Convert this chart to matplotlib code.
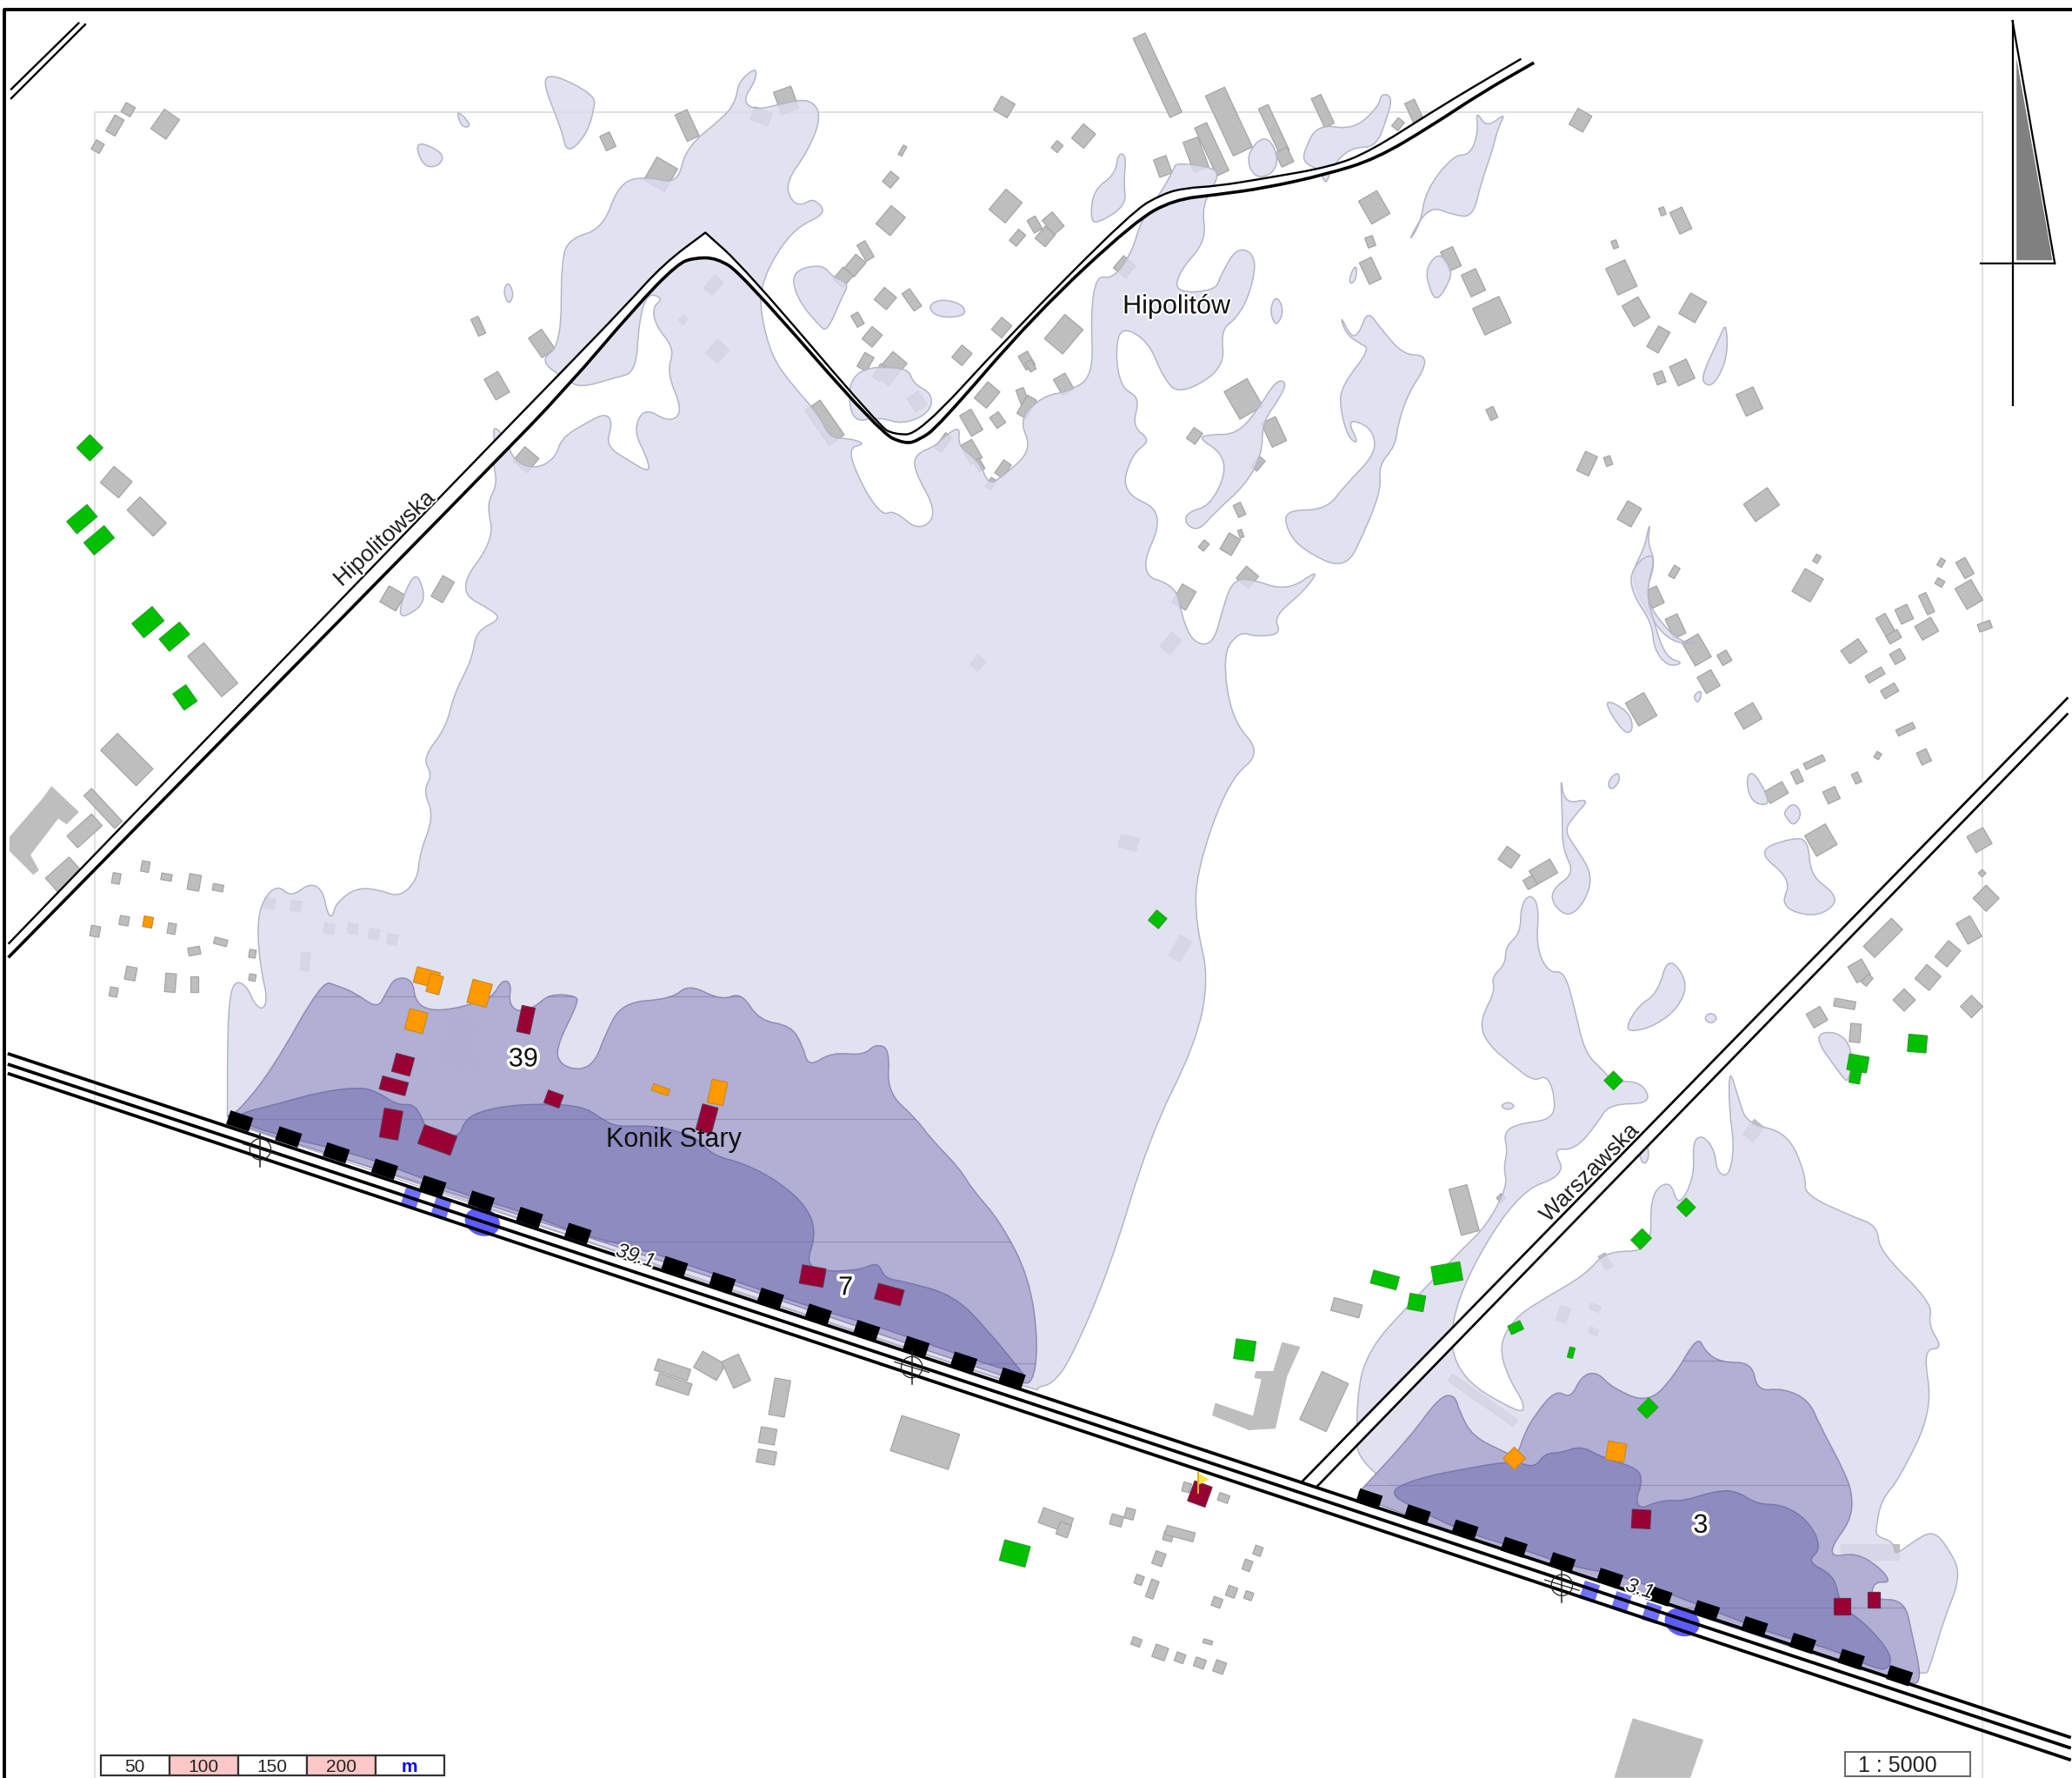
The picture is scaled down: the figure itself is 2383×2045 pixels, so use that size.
#!/usr/bin/env python3
"""Noise map of Konik Stary / Hipolitow along the railway line."""

import matplotlib
matplotlib.use("Agg")
import matplotlib.pyplot as plt
import matplotlib.patheffects as pe
import numpy as np
from matplotlib.patches import Ellipse, PathPatch, Polygon, Rectangle
from matplotlib.path import Path

plt.rcParams["font.family"] = ["Liberation Sans", "DejaVu Sans"]

MAP_W, MAP_H = 1568, 1346
PX = 1.52  # output pixels per map unit

# traced outlines, in the coordinates of the crop they were read from
# crop name -> left, top, width, height in output pixels, canvas size
CROPS = {
    "south_w": (200, 1050, 1050, 600),
    "south_e": (1450, 1500, 933, 545),
    "north_w": (400, 40, 1000, 700),
    "north_e": (1200, 40, 1000, 700),
    "west": (0, 450, 600, 700),
    "east": (1650, 640, 733, 800),
}

main_sw = [(92, 600), (92, 400), (95, 260), (105, 205), (125, 220), (140, 280), (155, 292), (160, 250), (150, 180)]
main_w = [(772, 1380), (790, 1310), (835, 1272), (875, 1305), (930, 1268), (970, 1285), (985, 1350), (1000, 1355),
          (1010, 1320), (1070, 1280), (1140, 1285), (1200, 1305), (1255, 1260), (1262, 1190), (1305, 1095), (1272, 1030),
          (1300, 990), (1270, 945), (1340, 870), (1365, 780), (1420, 690), (1430, 620), (1500, 590), (1490, 570), (1370, 515)]
main_nw = [(265, 1300), (250, 1210), (270, 1160), (262, 1100), (265, 1050), (262, 1005), (285, 1040), (300, 1100),
           (340, 1120), (375, 1090), (385, 1040), (430, 1000), (465, 975), (478, 1000), (465, 1060), (510, 1100),
           (545, 1130), (540, 1090), (515, 1020), (535, 960), (580, 1000), (605, 970), (575, 870), (590, 810), (555, 750),
           (550, 700), (570, 680), (540, 665), (525, 740), (520, 870), (480, 885), (420, 910), (395, 890), (345, 840),
           (385, 800), (385, 580), (400, 525), (460, 500), (490, 380), (540, 365), (595, 385), (610, 290), (680, 210),
           (700, 170), (705, 120), (738, 82), (735, 120), (712, 170), (735, 195), (790, 175), (835, 165), (855, 210),
           (830, 300), (790, 380), (800, 430), (820, 440), (840, 420), (865, 460), (810, 495), (770, 570), (745, 650),
           (745, 720), (765, 830), (800, 900), (850, 980), (870, 1040), (905, 1040), (935, 1055), (900, 1065), (930, 1170),
           (965, 1240), (985, 1225), (1030, 1280), (1065, 1235), (1020, 1120), (1025, 1080), (1060, 1060), (1080, 1030),
           (1105, 1010), (1100, 1060), (1140, 1100), (1155, 1160), (1180, 1140), (1235, 1070), (1210, 990), (1255, 930),
           (1300, 920), (1345, 880), (1340, 720), (1350, 620), (1380, 630), (1415, 560), (1430, 480), (1470, 400), (1490, 345)]
main_ne = [(240, 330), (300, 340), (320, 360), (285, 440), (295, 530), (245, 610), (238, 665), (310, 660), (320, 620),
           (350, 545), (385, 570), (375, 660), (350, 730), (320, 760), (328, 860), (245, 930), (215, 880), (190, 790),
           (140, 750), (130, 820), (140, 910), (175, 935), (160, 1010), (195, 1045), (160, 1080), (140, 1180), (222, 1230),
           (170, 1390), (240, 1420), (250, 1500)]
main_e1 = [(903, 487), (918, 488), (925, 462)]
main_ne2 = [(340, 1410), (370, 1400), (440, 1435), (500, 1375), (470, 1435), (415, 1500), (430, 1545)]
main_e2 = [(950, 482), (938, 478), (925, 495), (932, 545), (955, 570), (930, 590), (905, 660), (905, 700), (915, 740),
           (905, 790), (870, 860), (840, 960), (810, 1030), (796, 1048), (785, 1050), (785, 1054), (172, 848)]

east_se = [(1280, 1265), (1300, 1170), (1320, 1050), (1355, 900), (1330, 810), (1300, 750), (1260, 790), (1225, 835),
           (1225, 790), (1190, 770), (1190, 740), (1200, 650), (1235, 580), (1300, 350), (1280, 150), (1320, 150),
           (1290, 70), (1300, 0)]
east_e = [(1095, 1568), (1090, 1510), (1030, 1490), (910, 1440), (915, 1400), (870, 1300), (770, 1280), (750, 1230),
          (725, 1150), (725, 1250), (738, 1330), (725, 1400), (695, 1390), (690, 1340), (660, 1305), (635, 1320),
          (640, 1400), (600, 1470), (580, 1405), (530, 1440), (535, 1568)]
east_s2 = [(1215, 947), (1200, 965), (1165, 985)]
east_sw = [(490, 50), (460, 140), (480, 250), (510, 330), (505, 370), (370, 230), (370, 0)]
east_up = [(200, 1435), (325, 1395), (290, 1335), (345, 1340), (400, 1280), (430, 1235), (535, 1235), (510, 1185),
           (440, 1185), (415, 1160), (370, 1120), (345, 1020), (320, 935), (280, 940), (250, 880), (258, 790), (235, 760),
           (212, 790), (212, 850), (175, 880), (175, 920), (140, 950), (150, 980), (110, 1050), (130, 1100), (195, 1150),
           (245, 1185), (275, 1170), (295, 1210), (295, 1270), (205, 1280), (170, 1300), (180, 1340), (170, 1380), (180, 1420)]
east_end = [(1125, 928), (1105, 947), (1067, 987), (1036, 1021), (1026, 1056), (1028, 1132)]

# smaller light islands
islands = [
    ("north_w", [(350, 120), (370, 100), (445, 155), (445, 190), (430, 260), (395, 308), (385, 240)]),
    ("north_w", [(120, 270), (175, 305), (165, 340), (135, 340)]),
    ("north_w", [(195, 190), (225, 235), (205, 240)]),
    ("north_w", [(280, 660), (290, 635), (300, 670), (290, 698)]),
    ("north_w", [(1045, 700), (1070, 680), (1110, 695), (1115, 725), (1065, 730)]),
    ("north_w", [(800, 610), (855, 590), (875, 625), (905, 640), (890, 680), (865, 765), (850, 750), (810, 680)]),
    ("north_w", [(85, 1510), (120, 1375), (140, 1440), (130, 1480)]),
    ("north_w", [(905, 860), (1010, 855), (1020, 900), (1055, 925), (1050, 975), (1000, 1005), (960, 985), (905, 1000)]),
    ("north_e", [(85, 480), (90, 400), (130, 360), (135, 305), (150, 310), (145, 380), (150, 440), (100, 485)]),
    ("north_e", [(365, 310), (400, 255), (425, 310), (415, 360), (380, 370)]),
    ("north_e", [(470, 300), (495, 230), (560, 245), (605, 185), (610, 150), (630, 160), (620, 215), (600, 290), (555, 290),
                 (520, 340), (510, 390), (500, 350), (470, 330)]),
    ("north_e", [(655, 540), (695, 440), (740, 465), (775, 470), (790, 380), (810, 300), (820, 240), (835, 200), (800, 240),
                 (780, 195), (785, 250), (770, 310), (740, 310), (690, 400), (680, 490)]),
    ("north_e", [(690, 600), (715, 560), (735, 600), (735, 630), (710, 690), (695, 650)]),
    ("north_e", [(553, 620), (565, 590), (565, 630), (553, 645)]),
    ("north_e", [(420, 670), (435, 710), (420, 755), (408, 710)]),
    ("north_e", [(535, 720), (555, 780), (570, 770), (585, 710), (610, 760), (650, 825), (688, 825), (688, 860), (660, 920),
                 (640, 1000), (635, 1060), (605, 1110), (610, 1170), (580, 1280), (545, 1380), (470, 1330), (440, 1280),
                 (435, 1225), (510, 1225), (545, 1160), (600, 1080), (595, 1020), (565, 995), (550, 1000), (570, 1055),
                 (550, 1040), (535, 960), (538, 905), (590, 810), (570, 795), (545, 770)]),
    ("north_e", [(260, 1230), (300, 1215), (330, 1130), (320, 1075), (280, 1040), (300, 1030), (350, 1030), (390, 960),
                 (420, 890), (440, 895), (425, 940), (395, 1000), (395, 1080), (365, 1160), (310, 1230), (280, 1280), (255, 1260)]),
    ("north_e", [(1190, 870), (1220, 780), (1232, 740), (1235, 830), (1210, 905), (1190, 900)]),
    ("north_e", [(1060, 1390), (1085, 1320), (1090, 1280), (1095, 1260), (1090, 1310), (1105, 1360), (1085, 1440),
                 (1105, 1500), (1150, 1568), (1190, 1568), (1130, 1568), (1085, 1480)]),
    ("east", [(410, 318), (480, 350), (490, 395), (465, 400)]),
    ("east", [(770, 490), (790, 490), (830, 560), (790, 560), (770, 530)]),
    ("east", [(860, 575), (885, 555), (905, 580), (885, 610), (865, 590)]),
    ("east", [(635, 315), (660, 300), (650, 335)]),
    ("east", [(425, 510), (450, 485), (458, 505), (435, 530)]),
    ("east", [(790, 665), (880, 635), (920, 640), (925, 720), (985, 760), (985, 790), (930, 815), (850, 790), (880, 730)]),
    ("east", [(310, 490), (320, 560), (385, 545), (340, 590), (320, 620), (350, 660), (390, 720), (370, 780), (330, 815),
              (290, 785), (290, 750), (345, 715), (315, 660), (315, 590)]),
    ("east", [(470, 1065), (500, 1015), (550, 985), (575, 900), (625, 960), (600, 1020), (540, 1060), (490, 1072)]),
    ("east", [(662, 1042), (680, 1028), (698, 1042), (680, 1056)]),
    ("east", [(162, 1240), (180, 1230), (200, 1240), (180, 1250)]),
    ("east", [(930, 1080), (990, 1070), (1030, 1110), (1020, 1190), (1000, 1170)]),
    ("east", [(480, 40), (515, 0), (545, 0), (520, 80), (540, 150), (570, 230), (615, 240), (575, 250), (540, 210), (535, 150), (490, 90)]),
    ("east", [(500, 1320), (520, 1310), (530, 1360), (510, 1375)]),
]

# noise zones: middle and inner band at both source stretches
mid_west = [(110, 600), (170, 470), (255, 205), (280, 220), (310, 240), (350, 290), (365, 240), (380, 195), (410, 200),
            (415, 270), (440, 295), (480, 290), (510, 275), (545, 260), (565, 200), (580, 215), (575, 270), (590, 300),
            (620, 285), (645, 245), (690, 250), (695, 270), (655, 410), (665, 460), (700, 475), (725, 445), (740, 370),
            (770, 270), (855, 260), (885, 215), (940, 265), (975, 240), (1005, 325), (1060, 340), (1080, 400), (1090, 465),
            (1130, 420), (1185, 430), (1205, 395), (1230, 410), (1225, 540), (1275, 620), (1300, 680), (1350, 770),
            (1370, 830), (1420, 930), (1470, 1100), (1485, 1300), (1475, 1420), (1450, 1410), (1000, 1140), (700, 970),
            (400, 800), (110, 640), (92, 612), (92, 612)]
in_west = [(110, 605), (180, 575), (250, 540), (320, 525), (350, 540), (385, 580), (410, 575), (425, 610), (435, 660),
           (490, 680), (500, 620), (540, 590), (610, 575), (700, 580), (735, 620), (760, 645), (820, 640), (870, 660),
           (900, 680), (925, 730), (980, 755), (1040, 810), (1090, 890), (1103, 970), (1085, 1060), (1120, 1080),
           (1180, 1075), (1210, 1050), (1220, 1100), (1255, 1110), (1340, 1150), (1400, 1260), (1460, 1390), (1460, 1390),
           (1400, 1360), (1300, 1300), (1200, 1240), (1100, 1190), (1000, 1130), (900, 1070), (800, 1010), (700, 970),
           (600, 900), (500, 850), (400, 780), (300, 720), (200, 680), (110, 630)]
mid_east = [(190, 625), (190, 625), (290, 440), (345, 310), (375, 300), (385, 360), (410, 440), (470, 490), (495, 510), (510, 430),
            (530, 370), (570, 285), (600, 315), (620, 240), (650, 225), (680, 280), (750, 330), (800, 240), (845, 105),
            (860, 160), (890, 195), (950, 195), (960, 290), (1010, 280), (1060, 320), (1080, 400), (1130, 560), (1145, 640),
            (1140, 720), (1105, 800), (1105, 840), (1150, 825), (1195, 870), (1220, 925), (1185, 920), (1180, 980),
            (1245, 980), (1260, 1100), (1278, 1240), (1260, 1270), (700, 950), (195, 650)]
in_east = [(245, 625), (300, 580), (400, 545), (490, 520), (530, 545), (550, 495), (580, 495), (620, 470), (660, 510),
           (730, 545), (738, 590), (725, 650), (735, 680), (760, 660), (790, 650), (815, 655), (880, 620), (920, 620),
           (960, 665), (1010, 665), (1060, 720), (1085, 810), (1055, 855), (1110, 900), (1120, 1000), (1170, 1060),
           (1220, 1160), (1215, 1210), (1190, 1210), (1100, 1140), (1000, 1100), (850, 1000), (700, 900), (600, 870),
           (500, 810), (400, 760), (300, 680)]

# road centre lines, map units
rail_west = [(7, 798), (7, 806), (7, 813)]
rail_east = [(1566, 1315), (1566, 1323), (1566, 1332)]
hip_up_w = [(25, 1425)]
hip_up_nw = [(235, 1090), (385, 870), (500, 700), (570, 590), (645, 510), (645, 510), (715, 600), (960, 1010), (985, 1030), (1030, 1030),
             (1190, 780), (1415, 455), (1470, 410), (1510, 395), (1568, 390)]
hip_up_ne = [(400, 370), (520, 340), (590, 300), (700, 200), (775, 135), (862, 62)]
hip_lo_w = [(25, 1460)]
hip_lo_nw = [(260, 1110), (395, 910), (520, 700), (595, 590), (625, 575), (665, 575), (710, 615), (960, 1025),
             (1005, 1055), (1030, 1045), (1065, 1010), (1240, 720), (1420, 480), (1490, 425), (1568, 412)]
hip_lo_ne = [(400, 395), (510, 360), (600, 320), (700, 235), (790, 150), (885, 72)]
warsaw_a = [(985, 1122), (1565, 528)]
warsaw_b = [(996, 1126), (1565, 540)]
corner_a = [(8, 68), (60, 17)]
corner_b = [(8, 75), (65, 18)]

# buildings: centre x, centre y, width, height, angle (map units)
grey_buildings = [
    (125, 94, 14, 18, 35), (97, 83, 8, 8, 30), (87, 95, 8, 14, 30), (74, 111, 7, 8, 30), (88, 365, 18, 16, 40),
    (111, 391, 28, 14, 45), (161, 507, 40, 16, 50), (96, 575, 38, 18, 45), (78, 612, 34, 8, 47), (64, 629, 25, 12, -42),
    (48, 662, 24, 14, -42), (110, 656, 6, 8, 10), (88, 665, 6, 8, 10), (126, 664, 8, 5, 10), (147, 668, 9, 12, 10),
    (165, 672, 8, 5, 10), (94, 697, 7, 7, 10), (72, 705, 7, 8, 10), (130, 703, 6, 8, 10), (167, 713, 10, 5, 15),
    (147, 720, 9, 6, -10), (191, 722, 5, 6, 10), (99, 737, 8, 10, 10), (129, 744, 8, 14, 5), (86, 751, 6, 7, 10),
    (147, 745, 6, 12, 0), (191, 740, 5, 5, 10),
    (595, 76, 14, 18, -20), (576, 88, 14, 10, 20), (520, 95, 10, 22, -25), (460, 107, 8, 12, -25), (500, 132, 18, 20, 30),
    (760, 81, 12, 12, 30), (820, 103, 12, 14, 40), (800, 111, 6, 7, 40), (683, 114, 3, 8, 30), (674, 136, 8, 10, 40),
    (761, 156, 16, 20, 40), (674, 167, 14, 18, 40), (783, 170, 7, 11, -30), (791, 179, 10, 12, 40), (797, 169, 10, 14, -40),
    (770, 180, 7, 11, 40), (655, 190, 7, 14, -30), (647, 201, 10, 14, 40), (638, 210, 10, 12, 40), (670, 226, 12, 12, 40),
    (690, 227, 7, 16, -35), (649, 242, 6, 10, -30), (660, 255, 10, 12, 40), (758, 248, 10, 12, 40), (728, 269, 10, 12, 40),
    (805, 253, 18, 24, 40), (777, 273, 8, 12, -30), (780, 277, 5, 8, -30), (851, 202, 12, 12, 40), (674, 279, 14, 22, 40),
    (655, 274, 8, 12, 30), (666, 282, 6, 12, 30), (694, 304, 10, 12, -35), (747, 299, 12, 16, 40), (755, 318, 8, 10, -35),
    (735, 320, 10, 18, -30), (774, 301, 6, 14, -20), (777, 308, 8, 16, 30), (805, 291, 10, 14, -30), (714, 335, 6, 14, 35),
    (735, 342, 10, 16, -30), (741, 352, 5, 9, -30), (759, 355, 7, 12, 35), (750, 366, 5, 8, 35), (362, 247, 6, 14, -25),
    (410, 260, 12, 18, -35), (376, 292, 12, 18, -30), (624, 320, 14, 32, -35), (398, 348, 14, 14, 40), (335, 446, 10, 18, 30),
    (297, 453, 14, 14, 30), (904, 330, 8, 10, 35),
    (876, 57, 10, 66, -25), (930, 92, 16, 50, -25), (917, 113, 10, 40, -25), (964, 98, 8, 38, -25), (905, 117, 12, 24, -20),
    (880, 126, 10, 14, -20), (1001, 84, 8, 24, -25), (1070, 84, 8, 16, -25), (972, 119, 10, 12, -25), (1058, 94, 6, 8, 40),
    (1196, 91, 12, 14, 30), (1040, 157, 16, 20, -30), (1272, 167, 10, 18, -25), (1258, 160, 4, 6, -20), (1222, 185, 4, 6, -20),
    (1037, 183, 6, 8, -20), (1037, 205, 10, 18, -25), (1098, 196, 10, 16, -25), (1115, 214, 12, 18, -25), (1129, 239, 22, 22, -25),
    (1227, 210, 16, 22, -25), (1238, 236, 14, 18, -30), (1281, 233, 14, 18, 30), (1255, 257, 10, 18, 30), (1273, 282, 14, 16, -25),
    (1256, 286, 7, 9, -20), (1324, 304, 14, 18, -25), (1129, 313, 6, 9, -25), (1201, 351, 10, 16, 25), (1217, 349, 5, 7, -20),
    (1233, 389, 12, 16, 30), (1333, 382, 22, 16, -35), (1267, 433, 5, 9, 30), (1375, 423, 4, 6, 30), (1368, 443, 16, 20, 30),
    (1252, 452, 10, 14, -25), (1268, 474, 10, 16, -25), (941, 302, 20, 24, -30), (964, 327, 12, 20, -25), (952, 351, 6, 10, 40),
    (938, 386, 6, 10, -25), (931, 412, 10, 14, 30), (939, 404, 3, 6, -20), (911, 413, 5, 7, 40), (944, 437, 12, 12, 40),
    (896, 452, 12, 16, 30),
    (1469, 426, 4, 6, 30), (1487, 430, 8, 14, -30), (1490, 450, 14, 18, -30), (1468, 441, 6, 5, 30), (1502, 474, 10, 6, -20),
    (1458, 457, 6, 16, -25), (1441, 465, 10, 12, -25), (1428, 475, 8, 20, -30), (1433, 482, 10, 7, -30), (1458, 476, 14, 12, -30),
    (1436, 497, 9, 9, -30), (1403, 493, 16, 12, -35), (1419, 511, 14, 6, -30), (1430, 523, 12, 7, -30), (1305, 498, 8, 9, -30),
    (1284, 492, 14, 20, -30), (1293, 516, 12, 14, -30), (1323, 542, 16, 14, -30), (1242, 537, 16, 20, -30), (1442, 552, 14, 5, -25),
    (1456, 573, 8, 10, -25), (1421, 572, 4, 5, 30), (1405, 589, 5, 8, -25), (1373, 577, 16, 5, -25), (1360, 588, 6, 10, -25),
    (1386, 602, 10, 10, -25), (1344, 600, 16, 10, -30), (1378, 636, 18, 18, -30), (1498, 636, 14, 14, -30), (1500, 661, 4, 4, 45),
    (1503, 680, 14, 14, 45), (1425, 710, 30, 12, -45), (1490, 704, 12, 18, -30), (1474, 722, 12, 16, 40), (1459, 740, 14, 14, 40),
    (1407, 735, 12, 14, -30), (1413, 742, 5, 8, 40), (1441, 757, 12, 12, 45), (1492, 762, 12, 12, 45), (1396, 760, 16, 6, 10),
    (1375, 770, 12, 12, -30), (1404, 782, 8, 14, 5), (1142, 649, 12, 12, 35), (1168, 660, 18, 12, -30), (1158, 668, 8, 8, -30),
    (1136, 907, 5, 5, 45), (1108, 916, 14, 36, -15),
    (877, 1180, 8, 10, 20), (862, 1196, 6, 7, 20), (872, 1203, 6, 14, 20), (952, 1174, 6, 7, 20), (944, 1185, 6, 8, 20),
    (932, 1205, 7, 8, 20), (945, 1208, 6, 6, 20), (921, 1213, 7, 7, 20), (860, 1243, 7, 6, 20), (878, 1251, 10, 10, 20),
    (893, 1255, 7, 7, 20), (908, 1259, 8, 7, 20), (923, 1262, 8, 9, 20), (914, 1243, 7, 3, 15), (926, 1134, 8, 6, 20),
    (898, 1126, 6, 7, 15), (855, 1146, 7, 8, 15), (845, 1151, 9, 8, 15), (884, 1163, 7, 7, 15), (893, 1161, 22, 7, 15),
    (799, 1151, 24, 12, 20), (805, 1158, 9, 10, 20),
    (509, 1037, 26, 9, 18), (510, 1048, 26, 9, 18), (537, 1034, 20, 14, 30), (557, 1038, 14, 22, -25), (590, 1058, 12, 28, 10),
    (581, 1087, 12, 12, 10), (580, 1103, 14, 10, 10), (700, 1092, 46, 28, 18), (1002, 1061, 22, 40, 25),
    (1019, 990, 22, 10, 15), (1122, 1060, 60, 6, 35),
]
pale_buildings = [(204, 684, 8, 8, 10), (224, 686, 8, 8, 10), (249, 703, 8, 8, 10), (267, 703, 8, 8, 10), (283, 707, 8, 8, 10),
                  (297, 711, 8, 8, 10), (231, 728, 7, 14, 5), (347, 789, 20, 35, 15), (360, 808, 6, 12, 15),
                  (540, 216, 9, 13, 40), (517, 242, 5, 6, 40), (543, 266, 12, 14, 40), (740, 502, 8, 10, 40),
                  (854, 638, 14, 10, 15), (893, 718, 10, 18, 30), (1327, 856, 10, 14, 40), (1415, 1175, 44, 12, 0),
                  (886, 487, 10, 14, 40), (1215, 955, 6, 12, -30), (1183, 995, 8, 12, 20), (1207, 990, 8, 5, 20),
                  (1206, 1008, 7, 5, 20)]
orange_annex = [(329, 745, 10, 14, 15)]
l_block_west = [(30, 1150), (130, 1050), (155, 1020), (235, 1085), (200, 1115), (175, 1100), (90, 1195), (115, 1235), (100, 1245), (30, 1185)]
l_block_south = [(975, 135), (1035, 150), (990, 250), (950, 430), (860, 435), (735, 385), (745, 345), (875, 390), (905, 260),
                 (880, 255), (885, 235), (945, 235)]
big_block_se = [(720, 1375), (855, 1445), (830, 1568), (685, 1568)]

green_buildings = [(68, 339, 14, 14, 45), (62, 393, 20, 12, -40), (75, 409, 20, 12, -40), (112, 471, 20, 14, -40), (132, 482, 20, 12, -40),
                   (140, 528, 12, 15, -35), (876, 696, 10, 10, 40), (1451, 790, 14, 13, 5), (1406, 805, 15, 12, 10), (1404, 815, 8, 10, 10),
                   (1221, 818, 10, 10, 45), (1276, 914, 10, 10, 45), (1242, 938, 10, 12, 45), (1147, 1005, 10, 7, -25),
                   (1189, 1024, 4, 8, 15), (1247, 1066, 10, 12, 45), (942, 1022, 15, 15, 8), (768, 1176, 20, 16, 15),
                   (1048, 969, 20, 10, 15), (1095, 964, 22, 14, -10), (1072, 986, 12, 12, 10)]
red_buildings = [(398, 772, 10, 20, 12), (305, 806, 14, 14, 15), (298, 822, 20, 10, 15), (296, 851, 14, 22, 10), (331, 863, 26, 15, 20),
                 (419, 832, 12, 10, 20), (535, 847, 12, 20, 15), (615, 966, 18, 14, 10), (673, 980, 20, 12, 15),
                 (1242, 1150, 14, 14, 3), (1394, 1216, 12, 12, 0), (1418, 1211, 9, 12, 0), (908, 1131, 14, 16, 20)]
orange_buildings = [(323, 740, 18, 12, 15), (363, 752, 15, 18, 15), (315, 773, 14, 16, 15), (500, 825, 13, 5, 20), (543, 827, 12, 18, 12),
                    (1146, 1104, 12, 12, 45), (1223, 1099, 14, 14, 10), (112, 698, 7, 8, 10)]

# noise barrier segments along the railway, in crop coordinates
barrier_west = [(113, 627), (197, 675), (279, 723), (362, 772), (445, 822), (528, 868), (611, 917), (694, 965), (860, 1065), (942, 1113),
                (1025, 1160), (1107, 1208), (1190, 1257), (1275, 1305), (1357, 1352), (1440, 1400)]
barrier_east = [(210, 647), (303, 700), (395, 750), (490, 807), (583, 858), (675, 910), (770, 968), (862, 1017), (955, 1070), (1048, 1125),
                (1142, 1178), (1235, 1232)]
blue_marks = [(311, 907), (334, 914), (1203, 1205), (1227, 1213), (1250, 1221)]
blue_blobs = [(365, 925), (1273, 1228)]
survey_marks = [(197, 870), (690, 1035), (1182, 1200)]

scale_edges = [76, 128, 180, 232, 284, 336]
scale_labels = ["50", "100", "150", "200", "m"]
scale_fills = ["white", "#ffc8c8", "white", "#ffc8c8", "white"]

tile_rows_west = [754, 847, 940, 1032]
tile_rows_east = [1030, 1124, 1217]


def from_crop(points, name):
    """Crop trace coordinates (1568 square canvas) to map units."""
    x0, y0, w, h = CROPS[name]
    pts = np.asarray(points, dtype=float)
    return np.column_stack(((x0 + pts[:, 0] * w / 1568) / PX, (y0 + pts[:, 1] * h / 1568) / PX))


def smooth_path(pts):
    """Closed outline, vertices are used as quadratic control points."""
    pts = np.asarray(pts)
    mids = (pts + np.roll(pts, -1, axis=0)) / 2
    verts = [mids[-1]]
    codes = [Path.MOVETO]
    for p, m in zip(pts, mids):
        verts += [p, m]
        codes += [Path.CURVE3, Path.CURVE3]
    return Path(verts, codes)


def open_path(pts):
    """Open line, inner vertices are control points; first and last are kept."""
    pts = np.asarray(pts)
    mids = (pts[:-1] + pts[1:]) / 2
    verts = [pts[0], mids[0]]
    codes = [Path.MOVETO, Path.LINETO]
    for p, m in zip(pts[1:-1], mids[1:]):
        verts += [p, m]
        codes += [Path.CURVE3, Path.CURVE3]
    verts.append(pts[-1])
    codes.append(Path.LINETO)
    return Path(verts, codes)


def add_blob(ax, pts, face, alpha, edge, z):
    patch = PathPatch(smooth_path(pts), facecolor=(*face, alpha), edgecolor=edge, lw=1.1, zorder=z)
    ax.add_patch(patch)
    return patch


def add_boxes(ax, boxes, face, edge, z, lw=0.9):
    for cx, cy, w, h, ang in boxes:
        ax.add_patch(Rectangle((cx - w / 2, cy - h / 2), w, h, angle=ang, rotation_point="center",
                               facecolor=face, edgecolor=edge, lw=lw, zorder=z))


def road(ax, a, b, lw_a, lw_b, z=6):
    a, b = np.asarray(a), np.asarray(b)
    ax.add_patch(Polygon(np.vstack((a, b[::-1])), closed=True, facecolor="white", edgecolor="none", zorder=z - 0.5))
    for pts, lw in ((a, lw_a), (b, lw_b)):
        ax.add_patch(PathPatch(open_path(pts), facecolor="none", edgecolor="black", lw=lw, zorder=z, joinstyle="round"))


fig = plt.figure(figsize=(23.83, 20.45), dpi=100)
ax = fig.add_axes([0, 0, 1, 1])
ax.set_xlim(0, MAP_W)
ax.set_ylim(MAP_H, 0)
ax.axis("off")

# page frame and map sheet
ax.plot([72, 72, 1500, 1500], [MAP_H, 85, 85, MAP_H], color="#d8d8d8", lw=1.1, zorder=0.5)
ax.plot([3.5, 3.5, MAP_W], [MAP_H, 7, 7], color="black", lw=2.8, zorder=10)

# buildings below the semi-transparent zones
GREY, GREY_EDGE = "#bebebe", "#a6a6a6"
add_boxes(ax, grey_buildings, GREY, GREY_EDGE, 1)
add_boxes(ax, pale_buildings, GREY, GREY, 1)
ax.add_patch(Polygon(from_crop(l_block_west, "west"), closed=True, facecolor=GREY, edgecolor=GREY, lw=0.9, zorder=1))
south_l = np.asarray(l_block_south, dtype=float) / 3 + (1150, 1500)
ax.add_patch(Polygon(south_l / PX, closed=True, facecolor=GREY, edgecolor=GREY, lw=0.9, zorder=1))
ax.add_patch(Polygon(from_crop(big_block_se, "south_e"), closed=True, facecolor=GREY, edgecolor=GREY, lw=0.9, zorder=1))

LIGHT = (220 / 255, 221 / 255, 236 / 255)
LIGHT_EDGE = "#b4b5c8"
MID = (172 / 255, 170 / 255, 208 / 255)
MID_EDGE = "#8f8cb8"
DARK = (139 / 255, 136 / 255, 192 / 255)
DARK_EDGE = "#7a77ab"

main_zone = np.vstack((from_crop(main_sw, "south_w"), from_crop(main_w, "west"), from_crop(main_nw, "north_w"),
                       from_crop(main_ne, "north_e"), main_e1, from_crop(main_ne2, "north_e"), main_e2))
add_blob(ax, main_zone, LIGHT, 0.83, LIGHT_EDGE, 2)

east_zone = np.vstack((from_crop(east_se, "south_e"), from_crop(east_e, "east"), east_s2, from_crop(east_sw, "south_e"),
                       from_crop(east_up, "east"), east_end))
add_blob(ax, east_zone, LIGHT, 0.83, LIGHT_EDGE, 2)

for name, pts in islands:
    add_blob(ax, from_crop(pts, name), LIGHT, 0.83, LIGHT_EDGE, 2)

mid_w = add_blob(ax, from_crop(mid_west, "south_w"), MID, 0.9, MID_EDGE, 3)
mid_e = add_blob(ax, from_crop(mid_east, "south_e"), MID, 0.9, MID_EDGE, 3)
add_blob(ax, from_crop(in_west, "south_w"), DARK, 0.9, DARK_EDGE, 4)
add_blob(ax, from_crop(in_east, "south_e"), DARK, 0.9, DARK_EDGE, 4)

# faint seams of the calculation tiles show through the zones
for rows, patch, x_span in ((tile_rows_west, mid_w, (170, 790)), (tile_rows_east, mid_e, (1030, 1460))):
    for y in rows:
        seam, = ax.plot(x_span, [y, y], color="#6f6ca0", lw=0.9, alpha=0.45, zorder=4.5)
        seam.set_clip_path(patch)

add_boxes(ax, green_buildings, "#00c000", "#2f9f2f", 5)
add_boxes(ax, red_buildings, "#990033", "#6f2a4a", 5)
add_boxes(ax, orange_buildings + orange_annex, "#ff9900", "#c98a2a", 5)
ax.add_patch(Polygon([(906, 1115), (915, 1120), (907, 1124)], closed=True, facecolor="#f2e640", edgecolor="none", zorder=5.2))
ax.plot([907, 907], [1115, 1130], color="#d8b020", lw=1.5, zorder=5.2)

# receivers over the railway
for x, y in blue_marks:
    ax.add_patch(Rectangle((x - 6, y - 7), 12, 14, angle=18, rotation_point="center", facecolor=(0.2, 0.2, 1, 0.7),
                           edgecolor="none", zorder=5.5))
for x, y in blue_blobs:
    ax.add_patch(Ellipse((x, y), 27, 21, angle=18, facecolor=(0.15, 0.15, 1, 0.75), edgecolor="none", zorder=5.5))

# roads
rail_pts = [np.array([w, e]) for w, e in zip(rail_west, rail_east)]
for line in rail_pts:
    ax.plot(line[:, 0], line[:, 1], color="black", lw=2.7, zorder=6)
hip_up = np.vstack((from_crop(hip_up_w, "west"), from_crop(hip_up_nw, "north_w"), from_crop(hip_up_ne, "north_e")))
hip_lo = np.vstack((from_crop(hip_lo_w, "west"), from_crop(hip_lo_nw, "north_w"), from_crop(hip_lo_ne, "north_e")))
road(ax, hip_up, hip_lo, 1.7, 2.6)
road(ax, warsaw_a, warsaw_b, 1.9, 1.9)
road(ax, corner_a, corner_b, 1.7, 1.7)

for pts, name in ((barrier_west, "south_w"), (barrier_east, "south_e")):
    centres = from_crop(pts, name)
    ax.plot(centres[:, 0], centres[:, 1] + 4, color="#a9a8c0", lw=0.8, zorder=5.8)
    for x, y in centres:
        ax.add_patch(Rectangle((x - 9, y - 5.5), 18, 11, angle=18.4, rotation_point="center", facecolor="black",
                               edgecolor="none", zorder=7))

for x, y in survey_marks:
    ax.add_patch(Ellipse((x, y), 16, 16, facecolor="none", edgecolor="#222222", lw=0.9, zorder=7.5))
    ax.plot([x, x], [y - 12, y + 13], color="#222222", lw=1.1, zorder=7.5)
    ax.plot([x - 13, x + 13], [y - 4, y + 4], color="#222222", lw=0.9, zorder=7.5)

# north arrow
ax.add_patch(Polygon([(1526, 44), (1526, 197), (1553, 197), (1552, 190)], closed=True, facecolor="#808080", edgecolor="none", zorder=2))
ax.plot([1523, 1523], [16, 307], color="black", lw=1.6, zorder=3)
ax.plot([1499, 1555], [199.5, 199.5], color="black", lw=1.6, zorder=3)
ax.plot([1523, 1555], [16, 199.5], color="black", lw=1.6, zorder=3)

# labels
halo = [pe.withStroke(linewidth=5, foreground="white")]
thin_halo = [pe.withStroke(linewidth=3, foreground="white")]
ax.text(890, 232, "Hipolitów", fontsize=22, ha="center", va="center", color="#111111", path_effects=thin_halo, zorder=9)
ax.text(510, 863, "Konik Stary", fontsize=22, ha="center", va="center", color="#111111", zorder=9)
ax.text(291, 408, "Hipolitowska", fontsize=19, rotation=43, rotation_mode="anchor", ha="center", va="center",
        color="#222222", path_effects=thin_halo, zorder=9)
ax.text(1203, 888, "Warszawska", fontsize=19, rotation=45, rotation_mode="anchor", ha="center", va="center",
        color="#222222", path_effects=thin_halo, zorder=9)
for x, y, s in ((396, 802, "39"), (640, 975, "7"), (1287, 1155, "3")):
    ax.text(x, y, s, fontsize=22, ha="center", va="center", color="#111111", path_effects=halo, zorder=9)
for x, y, s in ((481, 951, "39.1"), (1241, 1203, "3.1")):
    ax.text(x, y, s, fontsize=17, rotation=-18, rotation_mode="anchor", ha="center", va="center", style="italic",
            color="#222222", path_effects=thin_halo, zorder=9)

# scale bar and ratio box
for i, (label, fill) in enumerate(zip(scale_labels, scale_fills)):
    ax.add_patch(Rectangle((scale_edges[i], 1329), scale_edges[i + 1] - scale_edges[i], 15, facecolor=fill,
                           edgecolor="#333333", lw=1.6, zorder=8))
    ax.text((scale_edges[i] + scale_edges[i + 1]) / 2, 1337.5, label, fontsize=15, ha="center", va="center",
            color="blue" if label == "m" else "#222222", fontweight="bold" if label == "m" else "normal", zorder=9)
ax.add_patch(Rectangle((1396, 1326), 95, 19, facecolor="white", edgecolor="#666666", lw=1.4, zorder=8))
ax.text(1436, 1336.5, "1 : 5000", fontsize=18, ha="center", va="center", color="#222222", zorder=9)

fig.savefig("out.png", dpi=100, facecolor="white")
